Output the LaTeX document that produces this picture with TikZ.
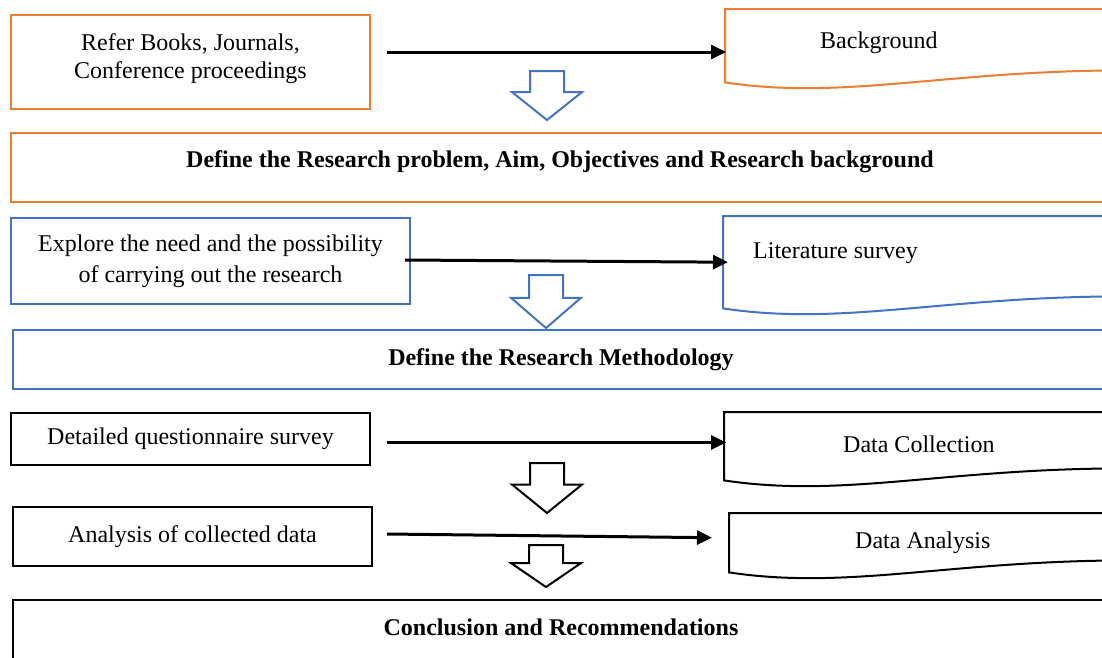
\documentclass[tikz,border=0pt]{standalone}
\usepackage{fontspec}
\setmainfont{Liberation Serif}
\usepackage{xcolor}
\usepackage{tikz}
\usetikzlibrary{positioning,calc,arrows.meta}
\definecolor{boxorange}{HTML}{ED7D31}
\definecolor{boxblue}{HTML}{4472C4}

\tikzset{
  stepbox/.style={draw=#1, line width=2pt, rectangle, anchor=north west, align=center, inner sep=0pt},
  docbox/.style={rectangle, anchor=north west, inner xsep=10pt, inner ysep=0pt, text width=380pt, align=flush left},
  docline/.style={draw=#1, line width=2pt},
  flow/.style={line width=3pt, -{Triangle[length=15pt,width=14pt]}},
  pics/blockdown/.style={code={
    \draw[line width=2pt, fill=white] (-17,0) -- (17,0) -- (17,0.43*#1) -- (35,0.43*#1)
      -- (0,#1) -- (-35,0.43*#1) -- (-17,0.43*#1) -- cycle;
  }}
}

% wavy document outline round a docbox node
\newcommand{\docoutline}[2]{%
  \draw[docline=#2] (#1.south west) -- (#1.north west) -- (#1.north east)
    -- ($(#1.south east)+(0,-12)$)
    .. controls ($(#1.south west)+(220,-12)$) and ($(#1.south west)+(120,18)$) .. (#1.south west) -- cycle;
}

\begin{document}
\begin{tikzpicture}[x=1pt, y=-1pt, font=\fontsize{24}{28}\selectfont]
  \clip (0,0) rectangle (1102,657);

  % left hand steps
  \node[stepbox=boxorange, minimum width=359pt, minimum height=94pt, text depth=12pt] (refer) at (10,14)
    {Refer Books, Journals,\\Conference proceedings};
  \node[stepbox=boxorange, minimum width=1098pt, minimum height=69pt, text depth=17pt, font=\fontsize{24}{28}\selectfont\bfseries] (problem) at (10,132)
    {Define the Research problem, Aim, Objectives and Research background};
  \node[stepbox=boxblue, minimum width=399pt, minimum height=86pt] (explore) at (10,217)
    {Explore the need and the possibility\\[3pt]of carrying out the research};
  \node[stepbox=boxblue, minimum width=1096pt, minimum height=59pt, font=\fontsize{24}{28}\selectfont\bfseries] (method) at (12,329)
    {Define the Research Methodology};
  \node[stepbox=black, minimum width=359pt, minimum height=52pt] (detail) at (10,412)
    {Detailed questionnaire survey};
  \node[stepbox=black, minimum width=359pt, minimum height=59pt] (analysis) at (12,506)
    {Analysis of collected data};
  \node[stepbox=black, minimum width=1096pt, minimum height=100pt, text depth=46pt, font=\fontsize{24}{28}\selectfont\bfseries] (concl) at (12,599)
    {Conclusion and Recommendations};

  % right hand documents
  \node[docbox, minimum height=73pt, text depth=11pt] (bg) at (725,9) {\hspace*{85pt}Background};
  \node[docbox, minimum height=92pt, text depth=24pt] (lit) at (723,216) {\hspace*{20pt}Literature survey};
  \node[docbox, minimum height=68pt, text depth=4pt] (dcol) at (724,412) {\hspace*{109pt}Data Collection};
  \node[docbox, minimum height=59pt] (dana) at (729,513) {\hspace*{116pt}Data Analysis};
  \docoutline{bg}{boxorange}
  \docoutline{lit}{boxblue}
  \docoutline{dcol}{black}
  \docoutline{dana}{black}

  % side arrows
  \draw[flow, shorten >=15pt] ([shift={(16,-10)}]refer.east) -- ([shift={(16,-10)}]refer.east -| bg.west);
  \draw[flow] ([shift={(-6,-1)}]explore.east) -- ([xshift=5pt]lit.west);
  \draw[flow, shorten >=14pt] ([shift={(16,3.5)}]detail.east) -- ([shift={(16,3.5)}]detail.east -| dcol.west);
  \draw[flow] ([shift={(14,-2.5)}]analysis.east) -- ([shift={(-17,-5)}]dana.west);

  % block arrows down
  \pic[color=boxblue] at (547,71) {blockdown=49};
  \pic[color=boxblue] at (546,275) {blockdown=53};
  \pic[color=black] at (547,463) {blockdown=50};
  \pic[color=black] at (546,545) {blockdown=42};
\end{tikzpicture}
\end{document}
